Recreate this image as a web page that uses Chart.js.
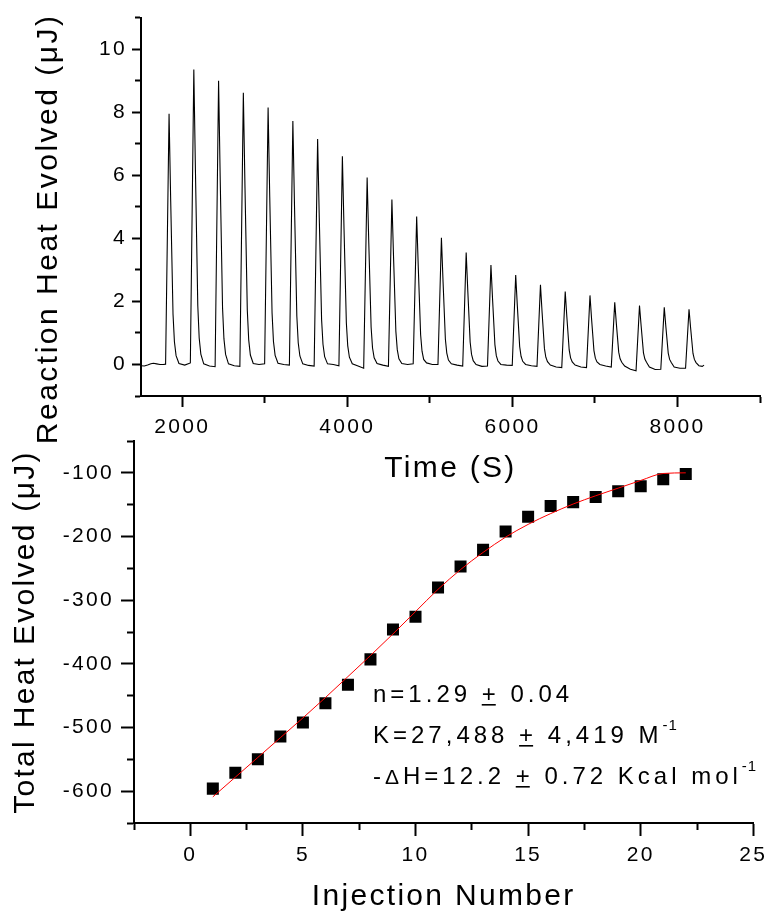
<!DOCTYPE html>
<html><head><meta charset="utf-8">
<script src="https://cdn.jsdelivr.net/npm/chart.js@4.4.1/dist/chart.umd.min.js"></script>
<style>
html,body{margin:0;padding:0;background:#fff;}
#wrap{position:relative;width:772px;height:915px;background:#fff;}
canvas{position:absolute;left:0;top:0;}
</style></head><body>
<div id="wrap">
<canvas id="rawChart" width="772" height="915"></canvas>
<canvas id="intChart" width="772" height="915"></canvas>
</div>
<script>
// ---- Top panel: raw ITC trace (time in s, heat in µJ) ----
const traceTime = [
  1500,1540,1580,1620,1650,1690,1730,1770,
  1798,1840,1860,1888,1905,1925,1960,2030,
  2098,2140,2160,2188,2205,2225,2260,2330,
  2398,2440,2460,2488,2505,2525,2560,2630,
  2698,2740,2760,2788,2805,2825,2860,2930,
  2998,3040,3060,3088,3105,3125,3160,3230,
  3298,3340,3360,3388,3405,3425,3460,3530,
  3598,3640,3660,3688,3705,3725,3760,3830,
  3898,3940,3960,3988,4005,4025,4060,4130,
  4198,4240,4260,4288,4305,4325,4360,4430,
  4498,4540,4560,4588,4605,4625,4660,4730,
  4798,4840,4860,4888,4905,4925,4960,5030,
  5098,5140,5160,5188,5205,5225,5260,5330,
  5398,5440,5460,5488,5505,5525,5560,5630,
  5698,5740,5760,5788,5805,5825,5860,5930,
  5998,6040,6060,6088,6105,6125,6160,6230,
  6298,6340,6360,6388,6405,6425,6460,6530,
  6598,6640,6660,6688,6705,6725,6760,6830,
  6898,6940,6960,6988,7005,7025,7060,7130,
  7198,7240,7260,7288,7305,7325,7360,7430,
  7498,7540,7560,7588,7605,7625,7660,7730,
  7798,7840,7860,7888,7905,7925,7960,8030,
  8098,8140,8160,8188,8205,8225,8260,8300,8322
];
const traceHeat = [
  -0.04,-0.05,-0.02,0.02,0.04,0.02,0.00,0.00,
  0.01,7.95,5.17,1.59,0.72,0.28,0.03,-0.02,
  0.05,9.35,6.08,1.87,0.84,0.33,0.02,-0.05,
  -0.07,9.00,5.85,1.80,0.81,0.32,0.02,-0.04,
  -0.06,8.62,5.60,1.72,0.78,0.30,0.03,0.00,
  0.02,8.15,5.30,1.63,0.73,0.29,0.04,0.00,
  -0.02,7.72,5.02,1.54,0.69,0.27,0.02,-0.03,
  -0.05,7.15,4.65,1.43,0.64,0.25,0.02,0.00,
  -0.04,6.60,4.29,1.32,0.59,0.23,0.02,-0.05,
  -0.12,5.93,3.85,1.19,0.53,0.21,0.03,-0.02,
  -0.06,5.23,3.40,1.05,0.47,0.18,0.03,0.00,
  0.02,4.69,3.05,0.94,0.42,0.16,0.05,0.00,
  0.00,4.02,2.61,0.80,0.36,0.14,0.02,-0.02,
  -0.05,3.55,2.31,0.71,0.32,0.12,0.00,-0.06,
  -0.05,3.15,2.05,0.63,0.28,0.11,0.00,-0.02,
  -0.03,2.84,1.85,0.57,0.26,0.10,0.00,-0.04,
  -0.06,2.53,1.64,0.51,0.23,0.09,-0.02,-0.08,
  -0.10,2.31,1.50,0.46,0.21,0.08,-0.02,-0.08,
  -0.10,2.19,1.42,0.44,0.20,0.08,0.00,-0.05,
  -0.08,1.97,1.28,0.39,0.18,0.07,-0.05,-0.15,
  -0.20,1.87,1.22,0.37,0.17,0.07,-0.08,-0.16,
  -0.15,1.81,1.18,0.36,0.16,0.06,-0.08,-0.12,
  -0.12,1.75,1.14,0.35,0.16,0.06,-0.04,-0.06,-0.02
];
const timeTicks = [2000, 3000, 4000, 5000, 6000, 7000, 8000, 9000];
const timeTickLabels = [2000, 4000, 6000, 8000];
const rawHeatTickLabels = [0, 2, 4, 6, 8, 10];

// ---- Bottom panel: integrated heats and fitted curve ----
const injectionNumbers = [1,2,3,4,5,6,7,8,9,10,11,12,13,14,15,16,17,18,19,20,21,22];
const totalHeat = [-596,-571,-550,-514,-492,-462,-433,-393,-346,-326,-280,-247,-221,-192,-169,-152,-146,-138,-129,-121,-110,-102];
const fitHeat   = [-609,-578,-547,-516,-485,-453,-420,-387,-353,-318,-283,-252,-225,-201,-181,-164,-149,-136,-124,-112,-101,-100];
const injectionTickLabels = [0, 5, 10, 15, 20, 25];
const totalHeatTickLabels = [-100, -200, -300, -400, -500, -600];

// fit statistics text (rich parts: t=text, s=size, r=rise, u=underline)
const statLines = [
  [{t:'n=1.29 '},{t:'+',u:true},{t:' 0.04'}],
  [{t:'K=27,488 '},{t:'+',u:true},{t:' 4,419 M'},{t:'-1',s:15,r:13}],
  [{t:'-'},{t:'\u0394',s:21},{t:'H=12.2 '},{t:'+',u:true},{t:' 0.72 Kcal mol'},{t:'-1',s:15,r:13}]
];

Chart.defaults.font.family = '"Liberation Sans", Arial, sans-serif';
Chart.defaults.color = '#000';
const FAM = '"Liberation Sans", Arial, sans-serif';

function makeAxis(o) {
  const ax = {
    type: 'linear', min: o.min, max: o.max,
    ticks: {
      stepSize: o.step, autoSkip: false, maxRotation: 0, minRotation: 0,
      padding: o.pad, color: '#000', font: {size: 21},
      callback: v => o.labels.includes(v) ? String(v) : ''
    },
    grid: {
      display: true, drawOnChartArea: false, drawTicks: true,
      tickLength: o.tl, tickWidth: 2, tickColor: '#000',
      tickBorderDash: c => (c.tick && !o.labels.includes(c.tick.value)) ? o.minorDash : []
    },
    border: {display: true, color: '#000', width: 2},
    title: o.title,
    afterFit: s => { if (o.h !== undefined) s.height = o.h; if (o.w !== undefined) s.width = o.w; }
  };
  if (o.tickValues) {
    ax.afterBuildTicks = s => { s.ticks = o.tickValues.map(v => ({value: v})); };
  }
  return ax;
}

const spacingPlugin = {
  id: 'spacing',
  beforeDraw(chart) { chart.ctx.letterSpacing = '2.3px'; }
};

const topTitlePlugin = {
  id: 'topYTitle',
  afterDraw(chart) {
    const ctx = chart.ctx, a = chart.chartArea;
    ctx.save();
    ctx.font = '30px ' + FAM;
    ctx.fillStyle = '#000';
    ctx.letterSpacing = '2.5px';
    ctx.translate(a.left - 84, (a.top + a.bottom) / 2 + 22);
    ctx.rotate(-Math.PI / 2);
    ctx.textAlign = 'center';
    ctx.textBaseline = 'alphabetic';
    ctx.fillText(chart.scales.y.options.title.text, 0, 0);
    ctx.restore();
  }
};

const statsPlugin = {
  id: 'stats',
  afterDraw(chart) {
    const ctx = chart.ctx, a = chart.chartArea;
    ctx.save();
    ctx.fillStyle = '#000';
    ctx.textAlign = 'left';
    ctx.textBaseline = 'alphabetic';
    const x0 = a.left + 239;
    const baselines = [a.top + 261, a.top + 302, a.top + 343];
    statLines.forEach((parts, li) => {
      let x = x0;
      const y = baselines[li];
      parts.forEach(p => {
        const size = p.s || 24;
        ctx.font = size + 'px ' + FAM;
        ctx.letterSpacing = (size < 20 ? 1 : 4) + 'px';
        const w = ctx.measureText(p.t).width;
        ctx.fillText(p.t, x, y - (p.r || 0));
        if (p.u) ctx.fillRect(x, y + 2, w - 4, 1.6);
        x += w;
      });
    });
    ctx.restore();
  }
};

new Chart(document.getElementById('rawChart'), {
  type: 'line',
  data: {
    datasets: [{
      label: 'Reaction heat',
      data: traceTime.map((t, i) => ({x: t, y: traceHeat[i]})),
      borderColor: '#000', borderWidth: 1.1, pointRadius: 0, tension: 0, fill: false
    }]
  },
  options: {
    responsive: false, animation: false, events: [],
    layout: {padding: {left: 0, top: 13, right: 12, bottom: 419}},
    plugins: {legend: {display: false}, tooltip: {enabled: false}},
    scales: {
      x: makeAxis({min: 1500, max: 9000, step: 1000, tickValues: timeTicks, labels: timeTickLabels,
        pad: 8, tl: 11, minorDash: [6, 100], h: 100,
        title: {display: true, text: 'Time (S)', color: '#000', font: {size: 30}, padding: {top: 0, bottom: 9}}}),
      y: makeAxis({min: -1, max: 11, step: 1, labels: rawHeatTickLabels,
        pad: 5, tl: 9, minorDash: [0, 3, 100, 0], w: 141,
        title: {display: false, text: 'Reaction Heat Evolved (\u03bcJ)'}})
    }
  },
  plugins: [spacingPlugin, topTitlePlugin]
});

new Chart(document.getElementById('intChart'), {
  type: 'line',
  data: {
    datasets: [
      {
        label: 'Fit',
        data: injectionNumbers.map((n, i) => ({x: n, y: fitHeat[i]})),
        borderColor: '#ff0000', borderWidth: 1, pointRadius: 0,
        cubicInterpolationMode: 'monotone', fill: false
      },
      {
        label: 'Total heat',
        data: injectionNumbers.map((n, i) => ({x: n, y: totalHeat[i]})),
        showLine: false, pointStyle: 'rect', pointRadius: 8.5,
        pointBackgroundColor: '#000', pointBorderColor: '#000', pointBorderWidth: 0
      }
    ]
  },
  options: {
    responsive: false, animation: false, events: [],
    layout: {padding: {left: 0, top: 441, right: 18, bottom: 0}},
    plugins: {legend: {display: false}, tooltip: {enabled: false}},
    scales: {
      x: makeAxis({min: -2.5, max: 25, step: 2.5, labels: injectionTickLabels,
        pad: 7, tl: 13, minorDash: [6, 100], h: 92,
        title: {display: true, text: 'Injection Number', color: '#000', font: {size: 30}, padding: {top: 0, bottom: 0}}}),
      y: makeAxis({min: -650, max: -50, step: 50, labels: totalHeatTickLabels,
        pad: 7, tl: 13, minorDash: [0, 6, 100, 0], w: 134,
        title: {display: true, text: 'Total Heat Evolved (\u03bcJ)', color: '#000', font: {size: 30}, padding: {top: 8, bottom: 0}}})
    }
  },
  plugins: [spacingPlugin, statsPlugin]
});
</script>
</body></html>
